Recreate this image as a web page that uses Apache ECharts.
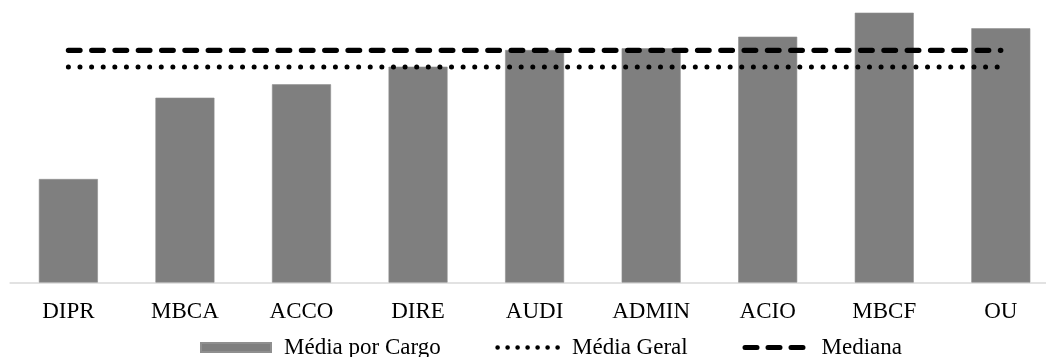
<!DOCTYPE html>
<html>
<head>
<meta charset="utf-8">
<title>Média por Cargo</title>
<script src="https://cdn.jsdelivr.net/npm/echarts@6/dist/echarts.min.js"></script>
<style>
  html, body { margin: 0; padding: 0; background: #ffffff; }
  #chart { width: 1046px; height: 357px; }
</style>
</head>
<body>
<div id="chart"></div>
<script>
// Cargos (eixo das categorias)
const categories = ['DIPR', 'MBCA', 'ACCO', 'DIRE', 'AUDI', 'ADMIN', 'ACIO', 'MBCF', 'OU'];
// Média por cargo
const mediaPorCargo = [10.35, 18.48, 19.82, 21.58, 23.25, 23.42, 24.58, 26.98, 25.42];
// Referências gerais
const mediaGeral = 21.55;
const mediana = 23.22;
const yMax = 28;

const FONT = '"Liberation Serif", "Times New Roman", serif';
const legendText = (padLeft) => ({
  color: '#000000', fontFamily: FONT, fontSize: 23, padding: [0, 0, 0, padLeft]
});
const hiddenSymbol = { color: 'rgba(0,0,0,0)', borderWidth: 0, opacity: 0 };

const chart = echarts.init(document.getElementById('chart'), null, { renderer: 'canvas' });

chart.setOption({
  backgroundColor: '#ffffff',
  animation: false,
  textStyle: { fontFamily: FONT },
  grid: {
    left: 10.1, width: 1049, top: 2.5, height: 280,
    containLabel: false, outerBoundsMode: 'none'
  },
  xAxis: {
    type: 'category',
    data: categories,
    boundaryGap: true,
    axisLine: { show: true, lineStyle: { color: '#d9d9d9', width: 1.5 } },
    axisTick: { show: false },
    axisLabel: { color: '#000000', fontFamily: FONT, fontSize: 23, margin: 18 },
    splitLine: { show: false }
  },
  yAxis: {
    type: 'value',
    min: 0,
    max: yMax,
    show: false,
    splitLine: { show: false }
  },
  legend: [
    {
      left: 200, top: 336, padding: 0,
      itemWidth: 70, itemHeight: 9,
      textStyle: legendText(8),
      data: [{ name: 'Média por Cargo', icon: 'rect' }]
    },
    {
      left: 495.3, top: 336, padding: 0,
      itemWidth: 60.5, itemHeight: 9,
      textStyle: legendText(9),
      data: [{
        name: 'Média Geral',
        itemStyle: hiddenSymbol,
        lineStyle: { color: '#000000', width: 4.6, type: [0.01, 9.99], cap: 'round' }
      }]
    },
    {
      left: 742.5, top: 336, padding: 0,
      itemWidth: 58, itemHeight: 9,
      textStyle: legendText(13.5),
      data: [{
        name: 'Mediana',
        itemStyle: hiddenSymbol,
        lineStyle: { color: '#000000', width: 5, type: [12, 11], cap: 'round' }
      }]
    }
  ],
  series: [
    {
      name: 'Média por Cargo',
      type: 'bar',
      data: mediaPorCargo,
      barWidth: 59,
      itemStyle: { color: '#7f7f7f', borderColor: '#8f8f8f', borderWidth: 0.6 },
      z: 2
    },
    {
      name: 'Média Geral',
      type: 'line',
      data: categories.map(() => mediaGeral),
      symbol: 'none',
      lineStyle: { color: '#000000', width: 5, type: [0.01, 11.6], cap: 'round' },
      itemStyle: { color: '#000000' },
      z: 3
    },
    {
      name: 'Mediana',
      type: 'line',
      data: categories.map(() => mediana),
      symbol: 'none',
      lineStyle: { color: '#000000', width: 5.2, type: [11.7, 11.6], cap: 'round' },
      itemStyle: { color: '#000000' },
      z: 3
    }
  ]
});
</script>
</body>
</html>
